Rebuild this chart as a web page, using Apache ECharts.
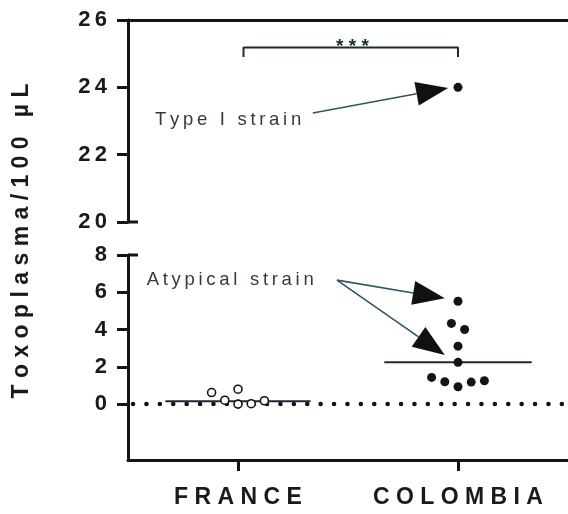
<!DOCTYPE html>
<html>
<head>
<meta charset="utf-8">
<script src="https://cdn.jsdelivr.net/npm/echarts@6/dist/echarts.min.js"></script>
<style>
  html, body { margin: 0; padding: 0; background: #fff; }
  #chart { width: 568px; height: 514px; }
</style>
</head>
<body>
<div id="chart"></div>
<script>
// data
const categories = ['FRANCE', 'COLOMBIA'];
const franceValues = [0.62, 0.8, 0.21, 0, 0.02, 0.18];
const franceJitter = [-0.24, 0, -0.12, 0, 0.12, 0.24];
const colombiaValues = [24, 5.52, 4.33, 4.0, 3.11, 2.24, 1.43, 1.2, 0.93, 1.18, 1.25];
const colombiaJitter = [0, 0, -0.06, 0.06, 0, 0, -0.24, -0.12, 0, 0.12, 0.24];
const medians = [0.15, 2.24];
const upperTicks = [20, 22, 24, 26];
const lowerTicks = [0, 2, 4, 6, 8];
const yTitle = 'Toxoplasma/100 µL';
const breakAt = 20; // values above this go on the upper panel

const INK = '#141414';
const FONT = '"Liberation Sans", Arial, sans-serif';

// the figure's text is widely letter-spaced
const spaced = (s, sep) => s.split('').join(sep);

const catX = i => 1 + 2 * i; // category centre on the hidden 0..4 value axis
const points = (vals, jit, i, upper) => vals
  .map((v, k) => [catX(i) + jit[k], v])
  .filter(p => upper ? p[1] >= breakAt : p[1] < breakAt);

const chart = echarts.init(document.getElementById('chart'));

const yAxisCommon = {
  type: 'value',
  axisLine: { show: true, onZero: false, lineStyle: { color: INK, width: 3 } },
  axisTick: { show: true, length: 11, lineStyle: { color: INK, width: 3 } },
  axisLabel: {
    margin: 21, color: '#1a1a1a', fontSize: 22, fontWeight: 'bold', fontFamily: FONT,
    formatter: v => spaced(String(v), '\u2009')
  },
  splitLine: { show: false }
};

const option = {
  animation: false,
  grid: [
    { left: 128, top: 20, right: 0, height: 202 },
    { left: 128, top: 255, right: 0, height: 205 }
  ],
  xAxis: [
    { gridIndex: 0, type: 'value', min: 0, max: 4, position: 'top',
      axisLine: { show: true, onZero: false, lineStyle: { color: INK, width: 3 } },
      axisTick: { show: false }, axisLabel: { show: false }, splitLine: { show: false } },
    { gridIndex: 1, type: 'category', data: categories, position: 'bottom',
      axisLine: { show: true, onZero: false, lineStyle: { color: INK, width: 3 } },
      axisTick: { show: true, interval: 0, alignWithLabel: true, length: 11, lineStyle: { color: INK, width: 3 } },
      axisLabel: { interval: 0, hideOverlap: false, margin: 26, color: '#1a1a1a', fontSize: 23,
        fontWeight: 'bold', fontFamily: FONT, formatter: v => spaced(v, ' ') } },
    { gridIndex: 1, type: 'value', min: 0, max: 4, show: false }
  ],
  yAxis: [
    Object.assign({}, yAxisCommon, { gridIndex: 0, min: 20, max: 26, interval: 2 }),
    Object.assign({}, yAxisCommon, {
      gridIndex: 1, min: -3, max: 8,
      axisTick: Object.assign({}, yAxisCommon.axisTick, { customValues: lowerTicks }),
      axisLabel: Object.assign({}, yAxisCommon.axisLabel, { customValues: lowerTicks })
    })
  ],
  series: [
    { // dotted zero line
      type: 'line', xAxisIndex: 2, yAxisIndex: 1, symbol: 'none', z: 1,
      data: [[0, 0], [4, 0]],
      lineStyle: { color: INK, width: 4.5, type: [0.1, 13.3], cap: 'round', dashOffset: -5 }
    },
    { // medians
      type: 'line', xAxisIndex: 2, yAxisIndex: 1, symbol: 'none', z: 2,
      data: [[catX(0) - 0.66, medians[0]], [catX(0) + 0.66, medians[0]]],
      lineStyle: { color: '#1b2b33', width: 2 }
    },
    {
      type: 'line', xAxisIndex: 2, yAxisIndex: 1, symbol: 'none', z: 2,
      data: [[catX(1) - 0.67, medians[1]], [catX(1) + 0.67, medians[1]]],
      lineStyle: { color: '#1b2b33', width: 2 }
    },
    {
      name: 'France', type: 'scatter', xAxisIndex: 2, yAxisIndex: 1, z: 3,
      data: points(franceValues, franceJitter, 0, false),
      symbolSize: 8,
      itemStyle: { color: '#fff', borderColor: INK, borderWidth: 1.6, opacity: 1 }
    },
    {
      name: 'Colombia', type: 'scatter', xAxisIndex: 2, yAxisIndex: 1, z: 3,
      data: points(colombiaValues, colombiaJitter, 1, false),
      symbolSize: 9, itemStyle: { color: INK, opacity: 1 }
    },
    {
      name: 'Colombia (upper)', type: 'scatter', xAxisIndex: 0, yAxisIndex: 0, z: 3,
      data: points(colombiaValues, colombiaJitter, 1, true),
      symbolSize: 9, itemStyle: { color: INK, opacity: 1 }
    },
    { // significance bracket
      type: 'line', xAxisIndex: 0, yAxisIndex: 0, symbol: 'none', z: 2,
      data: [[1.05, 24.9], [1.05, 25.18], [3, 25.18], [3, 24.9]],
      lineStyle: { color: '#1b2b33', width: 2 }
    }
  ]
};

chart.setOption(option);

// annotations: placed in data units, converted to pixels
const toPx = (panel, pt) => chart.convertToPixel({ xAxisIndex: panel === 0 ? 0 : 2, yAxisIndex: panel }, pt);

function arrow(panel, from, to) {
  const a = toPx(panel, from), b = toPx(panel, to);
  const dx = b[0] - a[0], dy = b[1] - a[1];
  const len = Math.hypot(dx, dy), ux = dx / len, uy = dy / len;
  const L = 32, W = 24;
  const bx = b[0] - ux * L, by = b[1] - uy * L;
  return [
    { type: 'line', shape: { x1: a[0], y1: a[1], x2: bx, y2: by },
      style: { stroke: '#2c5560', lineWidth: 1.6 }, z: 10 },
    { type: 'polygon', shape: { points: [b, [bx - uy * W / 2, by + ux * W / 2], [bx + uy * W / 2, by - ux * W / 2]] },
      style: { fill: '#111' }, z: 10 }
  ];
}

function note(panel, at, text) {
  const p = toPx(panel, at);
  return { type: 'text', x: p[0], y: p[1], z: 10,
    style: { text: text, fill: '#2f3b40', font: '18.5px ' + FONT, verticalAlign: 'middle', align: 'left' } };
}

const wordSpaced = s => s.split(' ').map(w => spaced(w, '\u2009')).join('\u2009 \u2009');

const starsAt = toPx(0, [2.04, 25.18]);
const graphic = [
  note(0, [0.245, 23.03], wordSpaced('Type I strain')),
  ...arrow(0, [1.68, 23.24], [2.91, 23.98]),
  note(1, [0.17, 6.65], wordSpaced('Atypical strain')),
  ...arrow(1, [1.9, 6.65], [2.88, 5.68]),
  ...arrow(1, [1.9, 6.65], [2.88, 2.63]),
  { type: 'text', x: starsAt[0], y: starsAt[1] + 9, z: 10,
    style: { text: '* * *', fill: '#1b2b33', font: 'bold 19px ' + FONT, align: 'center', verticalAlign: 'bottom' } },
  { type: 'text', x: 22, y: 241, rotation: Math.PI / 2, z: 10,
    style: { text: spaced(yTitle, ' '), fill: '#1a1a1a', font: 'bold 23px ' + FONT, align: 'center', verticalAlign: 'middle' } }
];

// small caps where the y axis is broken
[[0, 20], [1, 8]].forEach(([panel, v]) => {
  const p = toPx(panel, [0, v]);
  graphic.push({ type: 'line', shape: { x1: p[0], y1: p[1], x2: p[0] + 10, y2: p[1] },
    style: { stroke: INK, lineWidth: 3 }, z: 10 });
});

chart.setOption({ graphic: graphic });
</script>
</body>
</html>
